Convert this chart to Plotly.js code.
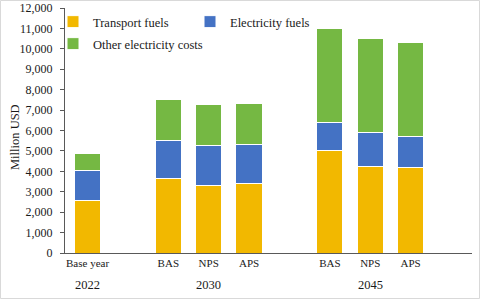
<!DOCTYPE html>
<html>
<head>
<meta charset="utf-8">
<script src="https://cdn.plot.ly/plotly-3.0.1.min.js"></script>
<style>html,body{margin:0;padding:0;background:#fff;}#chart{width:480px;height:299px;}</style>
</head>
<body>
<div id="chart"></div>
<script>
// ---- data ----
const years = ["2022", "2030", "2045"];
const scenarios = [["Base year"], ["BAS", "NPS", "APS"], ["BAS", "NPS", "APS"]];
const seriesNames = ["Transport fuels", "Electricity fuels", "Other electricity costs"];
const transportFuels = [2580, 3650, 3330, 3410, 5000, 4260, 4200];
const electricityFuels = [1470, 1850, 1940, 1920, 1380, 1630, 1530];
const otherElectricityCosts = [800, 2030, 2010, 2000, 4620, 4640, 4600];
const yTicks = [0, 1000, 2000, 3000, 4000, 5000, 6000, 7000, 8000, 9000, 10000, 11000, 12000];
const yTitle = "Million USD";

// ---- layout helpers (positions computed from group structure) ----
const xPos = [], xLabels = [], groupCenters = [];
let slot = 0;
scenarios.forEach((grp, gi) => {
  const start = slot;
  grp.forEach(s => { xPos.push(slot); xLabels.push(s); slot++; });
  groupCenters.push((start + slot - 1) / 2);
  slot++; // gap between groups
});

const colors = ["#F2B800", "#4472C4", "#75B843"];
const font = "'Liberation Serif', 'Times New Roman', serif";
const txt = "#1a1a1a";
const W = 480, H = 299;
const M = {l: 65, r: 8, t: 8, b: 46, pad: 0, autoexpand: false};
const pw = W - M.l - M.r, ph = H - M.t - M.b;

const seriesData = [transportFuels, electricityFuels, otherElectricityCosts];
const traces = seriesData.map((vals, i) => ({
  type: "bar",
  name: seriesNames[i],
  x: xPos,
  y: vals,
  width: 0.65,
  marker: {color: colors[i], line: {color: "#ffffff", width: 1}},
  legend: i < 2 ? "legend" : "legend2",
  hoverinfo: "skip"
}));

const legendCommon = {
  orientation: "h",
  traceorder: "normal",
  bgcolor: "rgba(0,0,0,0)",
  font: {family: font, size: 12.5, color: txt},
  itemwidth: 30,
  xref: "container",
  yref: "container",
  xanchor: "left",
  yanchor: "middle",
  tracegroupgap: 0
};

const layout = {
  width: W, height: H,
  margin: M,
  paper_bgcolor: "#ffffff",
  plot_bgcolor: "#ffffff",
  barmode: "stack",
  showlegend: true,
  font: {family: font, color: txt},
  xaxis: {
    range: [-0.558, slot - 1 + 0.52],
    tickmode: "array",
    tickvals: xPos,
    ticktext: xLabels,
    ticks: "",
    showgrid: false,
    zeroline: false,
    showline: true,
    linecolor: "#595959",
    linewidth: 1,
    tickfont: {family: font, size: 11, color: txt},
    fixedrange: true
  },
  yaxis: {
    range: [0, 12000],
    tickmode: "array",
    tickvals: yTicks,
    tickformat: ",",
    ticks: "outside",
    ticklen: 4,
    tickcolor: "#595959",
    ticklabelstandoff: 5,
    showgrid: false,
    zeroline: false,
    showline: true,
    linecolor: "#595959",
    linewidth: 1,
    tickfont: {family: font, size: 12, color: txt},
    fixedrange: true
  },
  legend: Object.assign({}, legendCommon, {
    x: 53 / W,
    y: 1 - 22 / H,
    entrywidth: 92,
    entrywidthmode: "pixels"
  }),
  legend2: Object.assign({}, legendCommon, {
    x: 53 / W,
    y: 1 - 44 / H
  }),
  annotations: years.map((yr, i) => ({
    text: yr,
    x: groupCenters[i],
    xref: "x",
    y: -(285 - (H - M.b)) / ph,
    yref: "paper",
    showarrow: false,
    xanchor: "center",
    yanchor: "middle",
    font: {family: font, size: 12.5, color: txt}
  })).concat([{
    text: yTitle,
    textangle: -90,
    x: -(M.l - 15) / pw,
    xref: "paper",
    y: (H - M.b - 137) / ph,
    yref: "paper",
    showarrow: false,
    xanchor: "center",
    yanchor: "middle",
    font: {family: font, size: 12.5, color: txt}
  }]),
  shapes: [{
    type: "rect", xref: "paper", yref: "paper",
    x0: -(M.l - 0.5) / pw, x1: 1 + (M.r - 0.5) / pw,
    y0: -(M.b - 0.5) / ph, y1: 1 + (M.t - 0.5) / ph,
    line: {color: "#d9d9d9", width: 1}, layer: "below"
  }]
};

Plotly.newPlot("chart", traces, layout, {displayModeBar: false, staticPlot: true});
</script>
</body>
</html>
